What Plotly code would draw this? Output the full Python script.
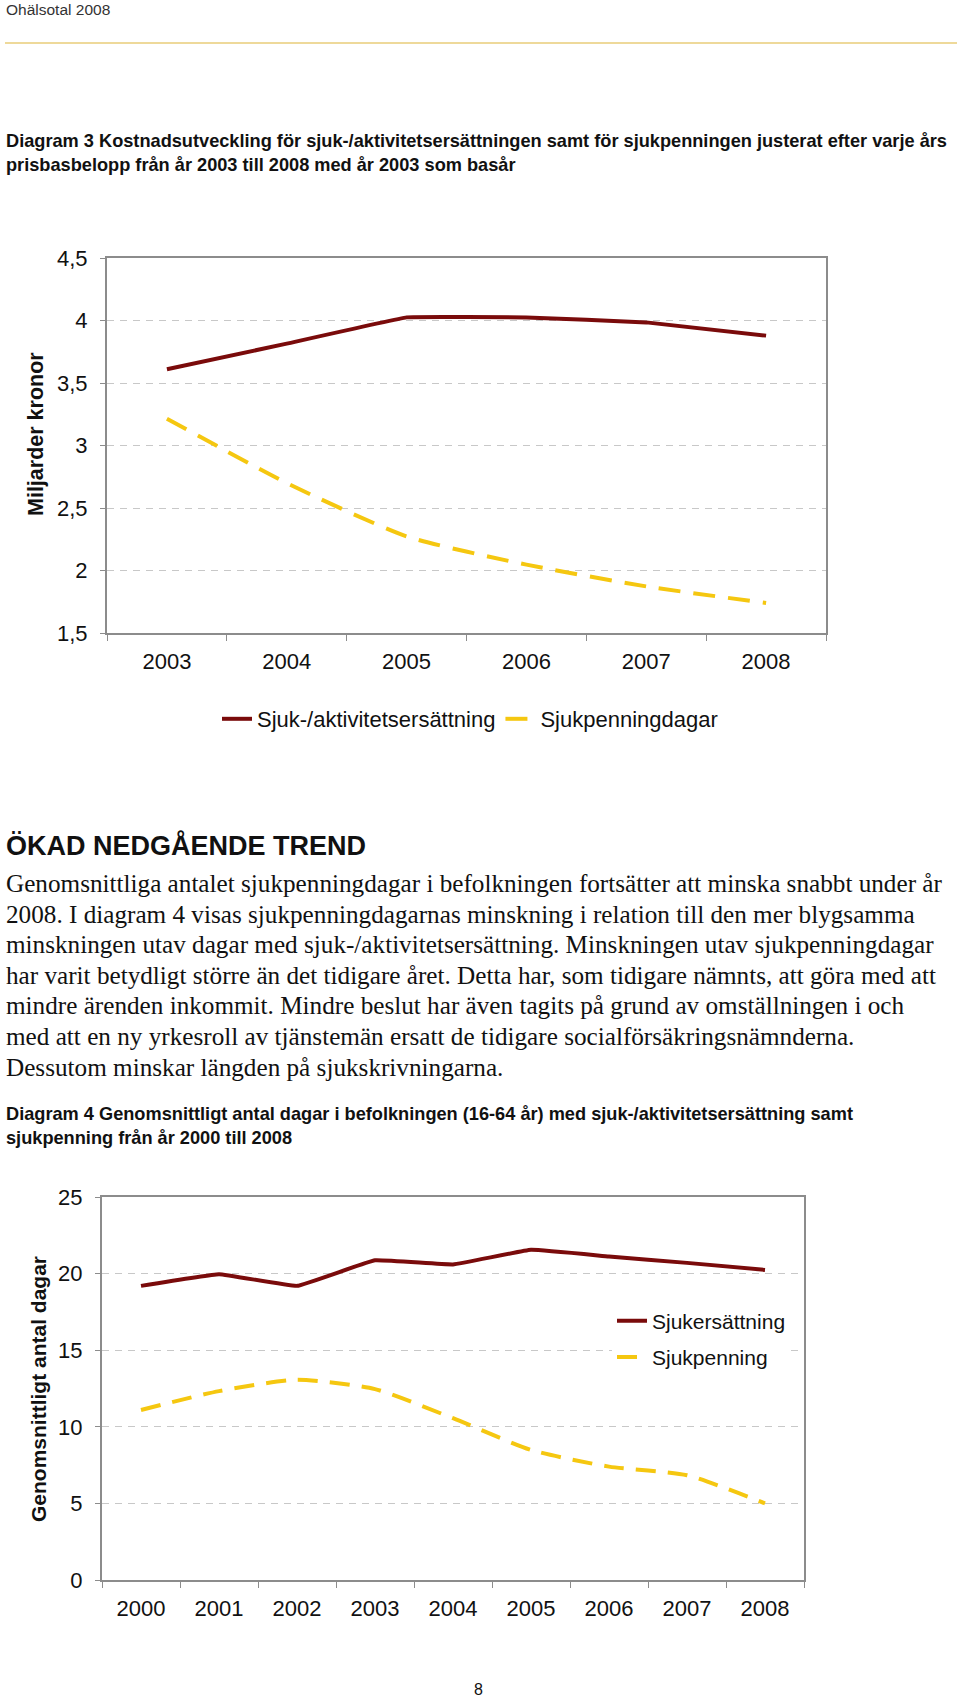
import plotly.graph_objects as go

# ---------------- data ----------------
years1 = ["2003", "2004", "2005", "2006", "2007", "2008"]
sjuk_aktivitet = [3.61, 3.815, 4.025, 4.025, 3.985, 3.879]
sjukpenningdagar = [3.215, 2.70, 2.273, 2.047, 1.873, 1.74]

years2 = ["2000", "2001", "2002", "2003", "2004", "2005", "2006", "2007", "2008"]
sjukersattning = [19.2, 19.96, 19.2, 20.87, 20.6, 21.55, 21.12, 20.7, 20.24]
sjukpenning = [11.1, 12.33, 13.07, 12.46, 10.56, 8.49, 7.4, 6.84, 5.0]

y1_ticks = [1.5, 2, 2.5, 3, 3.5, 4, 4.5]
y2_ticks = [0, 5, 10, 15, 20, 25]

page_header = "Ohälsotal 2008"
title3 = ["Diagram 3 Kostnadsutveckling för sjuk-/aktivitetsersättningen samt för sjukpenningen justerat efter varje års",
          "prisbasbelopp från år 2003 till 2008 med år 2003 som basår"]
heading = "ÖKAD NEDGÅENDE TREND"
body = [
    "Genomsnittliga antalet sjukpenningdagar i befolkningen fortsätter att minska snabbt under år",
    "2008. I diagram 4 visas sjukpenningdagarnas minskning i relation till den mer blygsamma",
    "minskningen utav dagar med sjuk-/aktivitetsersättning. Minskningen utav sjukpenningdagar",
    "har varit betydligt större än det tidigare året. Detta har, som tidigare nämnts, att göra med att",
    "mindre ärenden inkommit. Mindre beslut har även tagits på grund av omställningen i och",
    "med att en ny yrkesroll av tjänstemän ersatt de tidigare socialförsäkringsnämnderna.",
    "Dessutom minskar längden på sjukskrivningarna.",
]
title4 = ["Diagram 4 Genomsnittligt antal dagar i befolkningen (16-64 år) med sjuk-/aktivitetsersättning samt",
          "sjukpenning från år 2000 till 2008"]
page_no = "8"

# ---------------- style ----------------
W, H = 960, 1702
RED = "#7A0B0B"
YEL = "#F5C710"
SANS = "Liberation Sans, Arial"
SERIF = "Liberation Serif, Times New Roman"
AX = "#8C8C8C"
GRID = "#C8C8C8"

def py(px):  # page pixel-from-top to paper
    return 1 - px / H

def pxx(px):
    return px / W

fig = go.Figure()

fig.add_trace(go.Scatter(x=years1, y=sjuk_aktivitet, name="Sjuk-/aktivitetsersättning",
                         mode="lines", line=dict(color=RED, width=4, shape="spline", smoothing=0.15),
                         xaxis="x", yaxis="y", legend="legend"))
fig.add_trace(go.Scatter(x=years1, y=sjukpenningdagar, name="Sjukpenningdagar",
                         mode="lines", line=dict(color=YEL, width=4, dash="22px,13px", shape="spline", smoothing=0.6),
                         xaxis="x", yaxis="y", legend="legend"))
fig.add_trace(go.Scatter(x=years2, y=sjukersattning, name="Sjukersättning",
                         mode="lines", line=dict(color=RED, width=4, shape="spline", smoothing=0.25),
                         xaxis="x2", yaxis="y2", legend="legend2", legendgroup="a"))
fig.add_trace(go.Scatter(x=years2, y=sjukpenning, name="Sjukpenning",
                         mode="lines", line=dict(color=YEL, width=4, dash="20px,12px", shape="spline", smoothing=0.6),
                         xaxis="x2", yaxis="y2", legend="legend2", legendgroup="b"))

tickfont = dict(family=SANS, size=22, color="#111")

fig.update_layout(
    width=W, height=H, margin=dict(l=0, r=0, t=0, b=0, pad=0, autoexpand=False),
    paper_bgcolor="white", plot_bgcolor="white",
    separators=", ",
    showlegend=True,
    xaxis=dict(domain=[pxx(107), pxx(826)], anchor="y", type="category",
               range=[-0.5, len(years1) - 0.5], automargin=False,
               showline=True, linecolor=AX, linewidth=2, mirror=True,
               ticks="outside", tickson="boundaries", ticklen=6, tickcolor=AX,
               ticklabelstandoff=8, showgrid=False, tickfont=tickfont, fixedrange=True),
    yaxis=dict(domain=[py(633), py(258)], anchor="x", range=[1.5, 4.5], automargin=False,
               tickvals=y1_ticks, showline=True, linecolor=AX, linewidth=2, mirror=True,
               ticks="outside", ticklen=5, tickcolor=AX, ticklabelstandoff=8,
               showgrid=True, gridcolor=GRID, griddash="7px,6px", gridwidth=1,
               zeroline=False, tickfont=tickfont, fixedrange=True),
    xaxis2=dict(domain=[pxx(102), pxx(804)], anchor="y2", type="category",
                range=[-0.5, len(years2) - 0.5], automargin=False,
                showline=True, linecolor=AX, linewidth=2, mirror=True,
                ticks="outside", tickson="boundaries", ticklen=6, tickcolor=AX,
                ticklabelstandoff=8, showgrid=False, tickfont=tickfont, fixedrange=True),
    yaxis2=dict(domain=[py(1580), py(1197)], anchor="x2", range=[0, 25], automargin=False,
                tickvals=y2_ticks, showline=True, linecolor=AX, linewidth=2, mirror=True,
                ticks="outside", ticklen=5, tickcolor=AX, ticklabelstandoff=8,
                showgrid=True, gridcolor=GRID, griddash="7px,6px", gridwidth=1,
                zeroline=False, tickfont=tickfont, fixedrange=True),
    legend=dict(orientation="h", x=pxx(470), y=py(719), xanchor="center", yanchor="middle",
                font=dict(family=SANS, size=22, color="#111"), bgcolor="rgba(0,0,0,0)",
                itemclick=False, itemdoubleclick=False),
    legend2=dict(orientation="v", x=pxx(612), y=py(1339), xanchor="left", yanchor="middle",
                 font=dict(family=SANS, size=21, color="#111"), bgcolor="white",
                 tracegroupgap=6, traceorder="grouped",
                 itemclick=False, itemdoubleclick=False),
)

ann = []
def text(x, y, s, size, family=SANS, bold=False, color="#111", xanchor="left", angle=0):
    ann.append(dict(x=pxx(x), y=py(y), xref="paper", yref="paper", text=("<b>%s</b>" % s) if bold else s,
                    showarrow=False, xanchor=xanchor, yanchor="middle", textangle=angle,
                    font=dict(family=family, size=size, color=color)))

text(4, 10, page_header, 15.5, color="#333")
text(4, 141, title3[0], 18.2, bold=True)
text(4, 165, title3[1], 18.2, bold=True)
text(4, 845, heading, 27, bold=True)
for i, line in enumerate(body):
    text(4, 884 + i * 30.5, line, 25.2, family=SERIF)
text(4, 1114, title4[0], 18.2, bold=True)
text(4, 1138, title4[1], 18.2, bold=True)
text(36, 434, "Miljarder kronor", 21.5, bold=True, xanchor="center", angle=-90)
text(38, 1389, "Genomsnittligt antal dagar", 21, bold=True, xanchor="center", angle=-90)
text(478, 1689, page_no, 16, xanchor="center")
fig.update_layout(annotations=ann)

fig.add_shape(type="line", xref="paper", yref="paper", x0=pxx(5), x1=pxx(957), y0=py(43), y1=py(43),
              line=dict(color="#E8CC78", width=1.5))

# remove the default 8px page margin so the figure fills the window exactly
fig.write_html("out.html", config={"displayModeBar": False},
               post_script="document.body.style.margin='0';document.body.style.overflow='hidden';")
